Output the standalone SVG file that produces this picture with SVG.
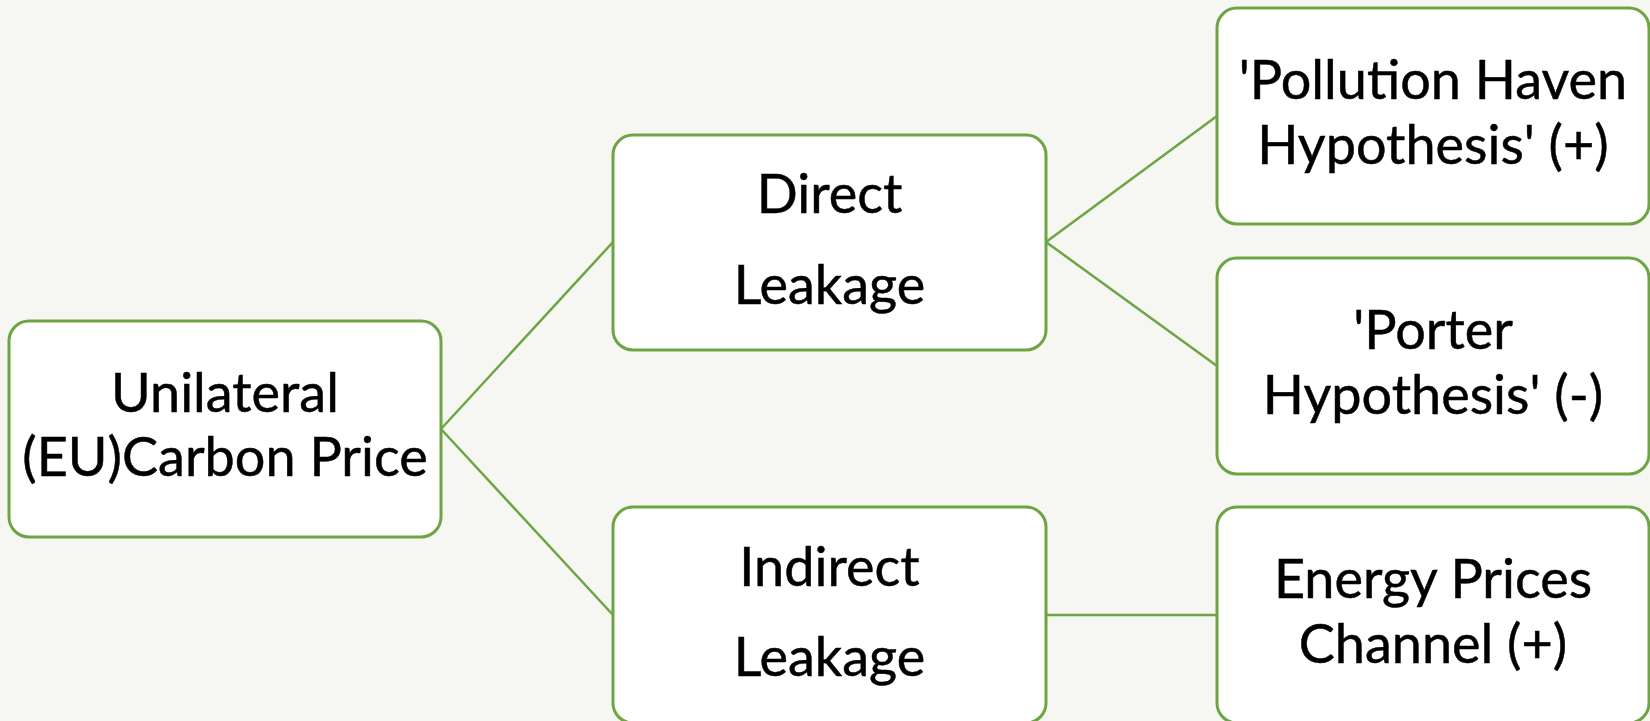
<svg xmlns="http://www.w3.org/2000/svg" width="1650" height="721" viewBox="0 0 1650 721">
  <style>
    .box { fill: #ffffff; stroke: #6ea544; stroke-width: 3; }
    .link { stroke: #6ea544; stroke-width: 2.5; fill: none; }
    .label { font-family: Lato, "Open Sans", sans-serif; font-size: 54px; fill: #000000; text-anchor: middle; stroke: #000000; stroke-width: 0.5; }
  </style>
  <rect width="1650" height="721" fill="#f6f7f3"/>

  <g id="connectors">
    <line class="link" x1="441" y1="429" x2="613" y2="242"/>
    <line class="link" x1="441" y1="429" x2="613" y2="615"/>
    <line class="link" x1="1046" y1="242" x2="1217" y2="116"/>
    <line class="link" x1="1046" y1="242" x2="1217" y2="366"/>
    <line class="link" x1="1046" y1="615" x2="1217" y2="615"/>
  </g>

  <g id="carbon-price">
    <rect class="box" x="9" y="321" width="432" height="216" rx="20"/>
    <text class="label" x="225" y="412">Unilateral</text>
    <text class="label" x="225" y="476">(EU)Carbon Price</text>
  </g>

  <g id="direct-leakage">
    <rect class="box" x="613" y="135" width="433" height="215" rx="20"/>
    <text class="label" x="829.5" y="213">Direct</text>
    <text class="label" x="829.5" y="304">Leakage</text>
  </g>

  <g id="indirect-leakage">
    <rect class="box" x="613" y="507" width="433" height="216" rx="20"/>
    <text class="label" x="829.5" y="586">Indirect</text>
    <text class="label" x="829.5" y="676">Leakage</text>
  </g>

  <g id="pollution-haven">
    <rect class="box" x="1217" y="8" width="432" height="216" rx="20"/>
    <text class="label" x="1433" y="99">'Pollution Haven</text>
    <text class="label" x="1433" y="164">Hypothesis' (+)</text>
  </g>

  <g id="porter">
    <rect class="box" x="1217" y="258" width="432" height="216" rx="20"/>
    <text class="label" x="1433" y="349">'Porter</text>
    <text class="label" x="1433" y="414">Hypothesis' (-)</text>
  </g>

  <g id="energy-prices">
    <rect class="box" x="1217" y="507" width="432" height="216" rx="20"/>
    <text class="label" x="1433" y="598">Energy Prices</text>
    <text class="label" x="1433" y="663">Channel (+)</text>
  </g>
</svg>
